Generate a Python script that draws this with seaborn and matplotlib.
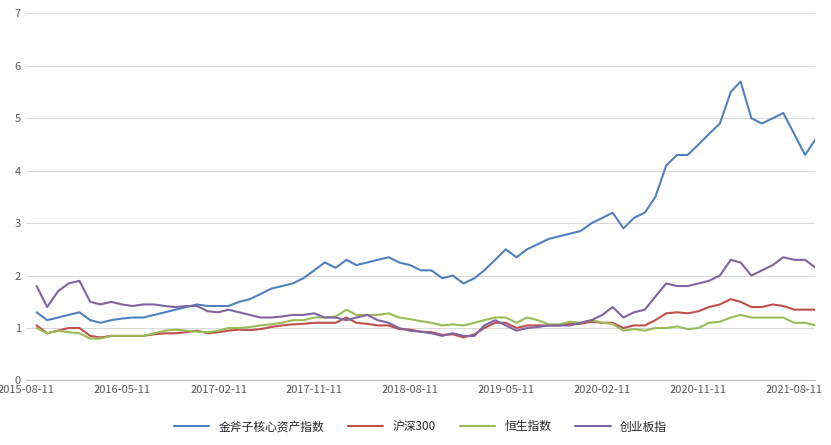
import pandas as pd
import numpy as np
import matplotlib
matplotlib.use("Agg")
import matplotlib.pyplot as plt
import seaborn as sns

dates = pd.date_range("2015-08-11", periods=75, freq="MS") + pd.Timedelta(days=10)
core = [1.3,1.15,1.2,1.25,1.3,
 1.15,1.1,1.15,1.18,1.2,1.2,1.25,1.3,1.35,1.4,1.45,1.42,
 1.42,1.42,1.5,1.55,1.65,1.75,1.8,1.85,1.95,2.1,2.25,2.15,
 2.3,2.2,2.25,2.3,2.35,2.25,2.2,2.1,2.1,1.95,2.0,1.85,
 1.95,2.1,2.3,2.5,2.35,2.5,2.6,2.7,2.75,2.8,2.85,3.0,
 3.1,3.2,2.9,3.1,3.2,3.5,4.1,4.3,4.3,4.5,4.7,4.9,
 5.5,5.7,5.0,4.9,5.0,5.1,4.7,4.3,4.6,4.5]
hs300 = [1.05,0.9,0.95,1.0,1.0,
 0.85,0.82,0.85,0.85,0.85,0.85,0.88,0.9,0.9,0.92,0.95,0.9,
 0.92,0.95,0.97,0.96,0.98,1.02,1.05,1.07,1.08,1.1,1.1,1.1,
 1.2,1.1,1.08,1.05,1.05,0.98,0.97,0.93,0.92,0.87,0.88,0.82,
 0.88,1.0,1.1,1.1,1.0,1.05,1.05,1.05,1.05,1.08,1.08,1.12,
 1.1,1.1,1.0,1.05,1.05,1.15,1.28,1.3,1.28,1.32,1.4,1.45,
 1.55,1.5,1.4,1.4,1.45,1.42,1.35,1.35,1.35,1.35]
hsi = [1.0,0.9,0.95,0.92,0.9,
 0.8,0.8,0.85,0.85,0.85,0.85,0.9,0.95,0.97,0.95,0.93,0.92,
 0.95,1.0,1.0,1.02,1.05,1.07,1.1,1.15,1.15,1.2,1.2,1.22,
 1.35,1.25,1.25,1.25,1.28,1.2,1.17,1.13,1.1,1.05,1.07,1.05,
 1.1,1.15,1.2,1.2,1.1,1.2,1.15,1.07,1.07,1.12,1.1,1.15,
 1.1,1.08,0.95,0.98,0.95,1.0,1.0,1.03,0.98,1.0,1.1,1.12,
 1.2,1.25,1.2,1.2,1.2,1.2,1.1,1.1,1.05,1.08]
chinext = [1.8,1.4,1.7,1.85,1.9,
 1.5,1.45,1.5,1.45,1.42,1.45,1.45,1.42,1.4,1.42,1.42,1.32,
 1.3,1.35,1.3,1.25,1.2,1.2,1.22,1.25,1.25,1.28,1.2,1.2,
 1.15,1.2,1.25,1.15,1.1,1.0,0.95,0.93,0.9,0.85,0.9,0.85,
 0.85,1.05,1.15,1.05,0.95,1.0,1.02,1.05,1.05,1.05,1.1,1.15,
 1.25,1.4,1.2,1.3,1.35,1.6,1.85,1.8,1.8,1.85,1.9,2.0,
 2.3,2.25,2.0,2.1,2.2,2.35,2.3,2.3,2.15,2.25]
names = ["金斧子核心资产指数", "沪深300", "恒生指数", "创业板指"]
colors = ["#4F81BD", "#C0504D", "#9BBB59", "#8064A2"]
tick_labels = ["2015-08-11","2016-05-11","2017-02-11","2017-11-11","2018-08-11",
               "2019-05-11","2020-02-11","2020-11-11","2021-08-11"]

sns.set_style("white")
plt.rcParams['font.family'] = ['Noto Sans CJK SC', 'DejaVu Sans']

df = pd.DataFrame({"date": list(dates)*4,
                   "value": core+hs300+hsi+chinext,
                   "series": sum([[n]*75 for n in names], [])})

fig, ax = plt.subplots(figsize=(8.31, 4.45), dpi=100)
sns.lineplot(data=df, x="date", y="value", hue="series", palette=colors,
             linewidth=1.5, ax=ax)
ax.set_ylim(0, 7)
ax.set_yticks(range(8))
ax.set_xlim(pd.Timestamp("2015-08-11"), pd.Timestamp("2021-10-10"))
ax.set_xticks(pd.to_datetime(tick_labels))
ax.set_xticklabels(tick_labels)
ax.tick_params(labelsize=8, colors="#595959", length=0)
ax.grid(axis="y", color="#D9D9D9", linewidth=0.8)
for s in ["top", "right", "left"]:
    ax.spines[s].set_visible(False)
ax.spines["bottom"].set_color("#BFBFBF")
ax.set_xlabel("")
ax.set_ylabel("")
ax.legend(loc="upper center", bbox_to_anchor=(0.5, -0.08), ncol=4, frameon=False,
          fontsize=8.5, handlelength=3)
plt.subplots_adjust(left=0.031, right=0.981, top=0.97, bottom=0.145)
fig.savefig("out.png", dpi=100)
